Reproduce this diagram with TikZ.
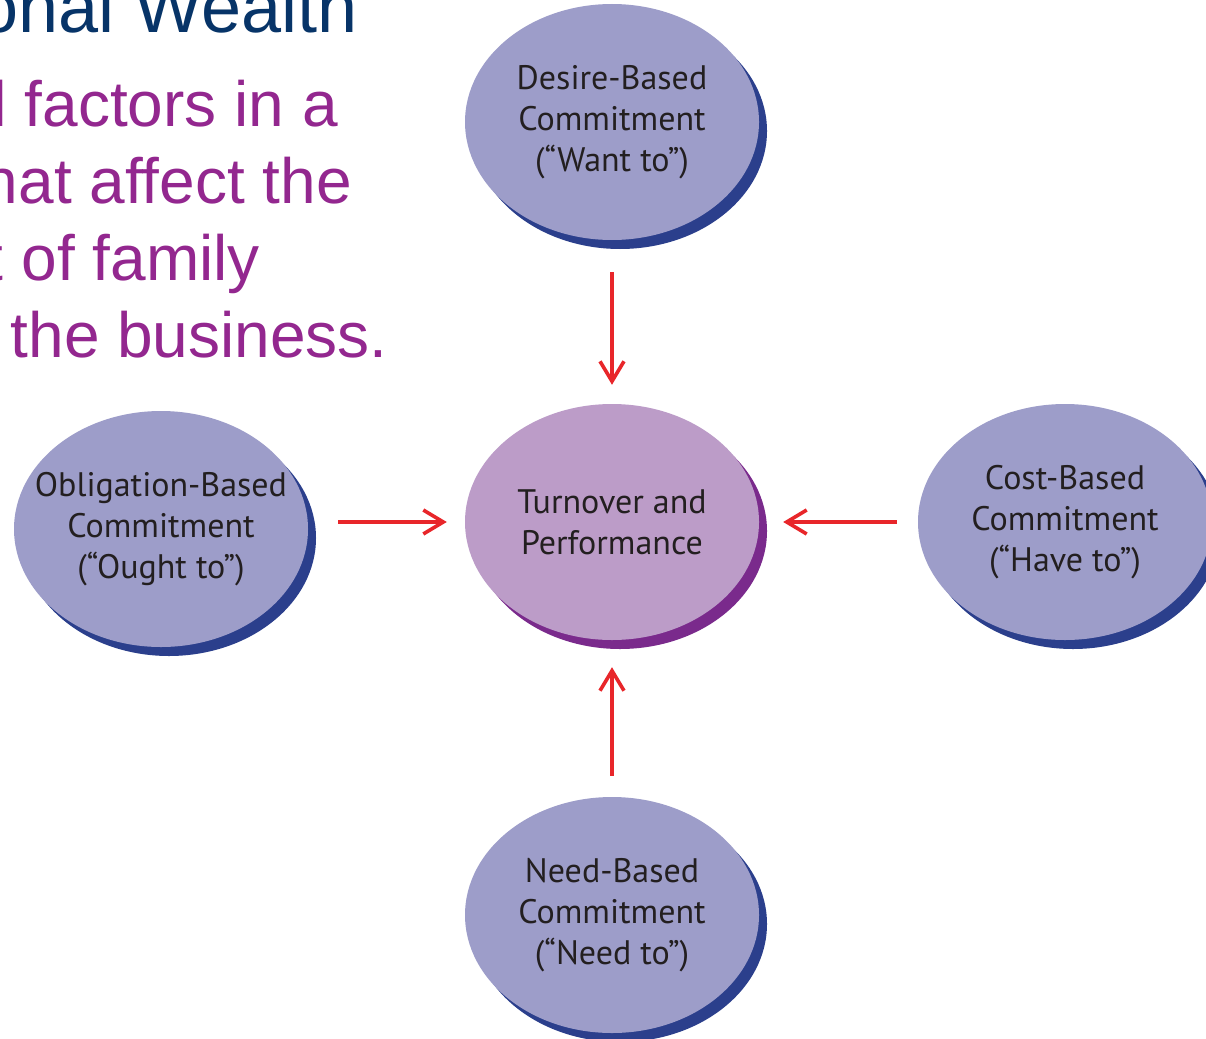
\documentclass[tikz,border=0pt]{standalone}
\usepackage{fontspec}
\setmainfont{PT Sans}
\newfontfamily\slidefont{Liberation Sans}
\usepackage{xcolor}
\usepackage{tikz}
\usetikzlibrary{arrows.meta}
\usetikzlibrary{shapes.geometric}
\usetikzlibrary{shadows}
\definecolor{commitfill}{HTML}{9D9DC9}
\definecolor{commitshade}{HTML}{2B3F8C}
\definecolor{perffill}{HTML}{BC9CC8}
\definecolor{perfshade}{HTML}{7A2A8C}
\definecolor{arrowred}{HTML}{E8262A}
\definecolor{slidepurple}{HTML}{93278F}
\definecolor{slideblue}{HTML}{073468}
\definecolor{inkgray}{HTML}{231F20}
\tikzset{
    bubble/.style = {ellipse, align=center, inner xsep=-50pt, inner ysep=-30pt, text centered, minimum width=294pt, minimum height=236pt, text=inkgray, font=\fontsize{34}{41}\selectfont},
    commit_node/.style = {bubble, fill=commitfill, drop shadow={shadow xshift=8pt, shadow yshift=-9pt, fill=commitshade, opacity=1}},
    perf_node/.style = {bubble, fill=perffill, drop shadow={shadow xshift=8pt, shadow yshift=-9pt, fill=perfshade, opacity=1}},
    slide_line/.style = {anchor=base east, inner sep=0pt, text=slidepurple, font=\slidefont\fontsize{64}{77}\selectfont},
    title_line/.style = {anchor=base east, inner sep=0pt, text=slideblue, font=\slidefont\fontsize{72}{80}\selectfont},
    link/.style = {->, draw=arrowred, line width=3.6pt}
}

\begin{document}
\begin{tikzpicture}[x=1pt, y=-1pt, >={Straight Barb[length=20pt, width=24pt]}]
    \useasboundingbox (0,0) rectangle (1206,1038);
    % slide text, cut at the left edge
    \node [title_line] (title) at (358,33) {onal Wealth};
    \node [slide_line] (line_a) at (338,127) {{\bfseries l} factors in a};
    \node [slide_line] (line_b) at (352,203) {hat affect the};
    \node [slide_line] (line_c) at (260,280) {t of family};
    \node [slide_line] (line_d) at (388,357) {the business.};
    % bubbles
    \node [perf_node] (perf) at (612,522) {Turnover and\\Performance};
    \node [commit_node] (desire) at (612,122) {Desire-Based\\Commitment\\(``Want to'')};
    \node [commit_node] (obligation) at (161,529) {Obligation-Based\\Commitment\\(``Ought to'')};
    \node [commit_node] (cost) at (1065,522) {Cost-Based\\Commitment\\(``Have to'')};
    \node [commit_node] (need) at (612,915) {Need-Based\\Commitment\\(``Need to'')};
    % arrows into the centre
    \draw [link, shorten <=32pt, shorten >=19pt] (desire) -- (perf);
    \draw [link, shorten <=30pt, shorten >=18pt] (obligation.east |- perf) -- (perf);
    \draw [link, shorten <=21pt, shorten >=24pt] (cost) -- (perf);
    \draw [link, shorten <=21pt, shorten >=27pt] (need) -- (perf);
\end{tikzpicture}
\end{document}
